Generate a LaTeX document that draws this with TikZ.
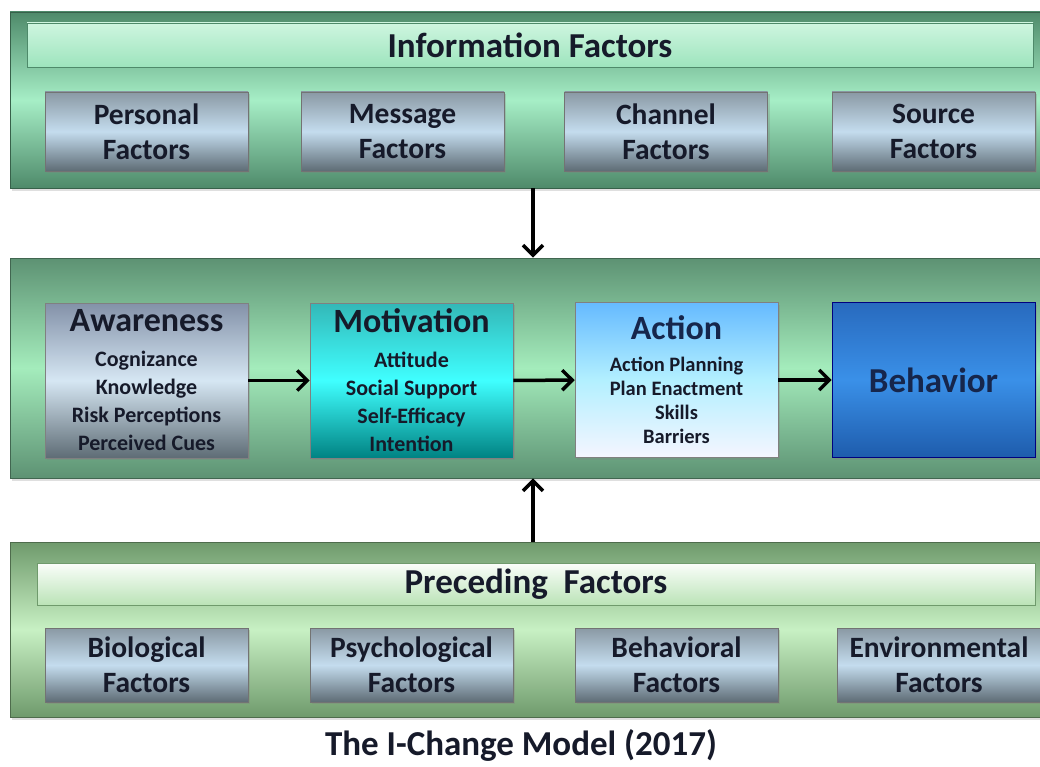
\documentclass[tikz,border=0pt]{standalone}
\usepackage{fontspec}
\setmainfont{Carlito}
\usetikzlibrary{arrows.meta,shadows}

% colours of the three bands and of the boxes
\definecolor{infodark}{HTML}{4E8A6A}
\definecolor{infolight}{HTML}{A6EEC6}
\definecolor{stagedark}{HTML}{5D9273}
\definecolor{stagelight}{HTML}{A4ECBC}
\definecolor{precdark}{HTML}{6F9A6C}
\definecolor{preclight}{HTML}{C8F0C4}
\definecolor{ink}{HTML}{161A2A}
\definecolor{navy}{HTML}{16264C}
\definecolor{facttop}{HTML}{8A99A4}
\definecolor{factmid}{HTML}{C4DCEE}
\definecolor{factbot}{HTML}{5E6C75}

\newcommand{\stagehead}{\fontsize{34}{40}\selectfont}

\tikzset{
  band/.style={draw=#1dark!70!black, line width=0.8pt,
    top color=#1dark, bottom color=#1dark, middle color=#1light,
    minimum width=1030pt, inner sep=0pt,
    drop shadow={opacity=0.25, shadow xshift=2pt, shadow yshift=-3pt}},
  banner/.style={draw=#1dark, line width=0.6pt, minimum height=44pt, inner sep=0pt,
    text=ink, font=\bfseries\fontsize{35}{38}\selectfont},
  factor/.style={draw=black!55, line width=0.6pt,
    top color=facttop, bottom color=factbot, middle color=factmid,
    minimum width=203pt, inner sep=0pt, align=center, text=ink,
    font=\bfseries\fontsize{29.5}{35}\selectfont,
    drop shadow={opacity=0.3, shadow xshift=2pt, shadow yshift=-2pt}},
  stage/.style={draw=black!50, line width=0.6pt,
    minimum width=203pt, minimum height=155pt, inner sep=0pt, align=center,
    text=ink, font=\bfseries\fontsize{22}{28}\selectfont,
    drop shadow={opacity=0.3, shadow xshift=2pt, shadow yshift=-2pt}},
  flow/.style={line width=3.5pt, -{Straight Barb[length=10pt,width=20pt]}},
}

\begin{document}
\begin{tikzpicture}[x=1pt, y=-1pt]
\useasboundingbox[fill=white] (0,0) rectangle (1040,767);

% information factors
\node[band=info, minimum height=176pt] (info) at (525,100) {};
\node[banner=info, minimum width=1006pt, top color=infolight!55!white,
      bottom color=infolight!90!infodark] (infotitle) at (530,45) {Information Factors};
\node[factor, minimum height=79pt] (personal) at (146.5,131.5) {Personal\\Factors};
\node[factor, minimum height=79pt] (message)  at (402.5,131.5) {Message\\Factors};
\node[factor, minimum height=79pt] (channel)  at (666,131.5)   {Channel\\Factors};
\node[factor, minimum height=79pt] (source)   at (933.5,131.5) {Source\\Factors};

% the four stages
\node[band=stage, minimum height=220pt] (stages) at (525,368) {};
\node[stage, top color=facttop!95!blue, bottom color=factbot,
      middle color=factmid!70!white] (aware) at (146.5,380.5)
  {{\stagehead Awareness}\\[7pt]Cognizance\\Knowledge\\Risk Perceptions\\Perceived Cues};
\node[stage, top color=teal!70!cyan!80, bottom color=teal!80!cyan!85!black,
      middle color=cyan!75!white] (motiv) at (411.5,380.5)
  {{\stagehead Motivation}\\[7pt]Attitude\\Social Support\\Self-Efficacy\\Intention};
\node[stage, top color=blue!45!cyan!60, bottom color=blue!4!white,
      middle color=blue!20!cyan!30!white,
      font=\bfseries\fontsize{20.5}{24}\selectfont] (action) at (676.5,380)
  {{\stagehead\color{navy}Action}\\[8pt]Action Planning\\Plan Enactment\\Skills\\Barriers};
\node[stage, draw=blue!50!black, top color={rgb,255:red,40;green,106;blue,190},
      bottom color={rgb,255:red,30;green,92;blue,172},
      middle color={rgb,255:red,58;green,144;blue,232},
      text=navy, font=\bfseries\fontsize{35}{40}\selectfont] (behav) at (933.5,380)
  {Behavior};

\draw[flow] (aware) -- (motiv);
\draw[flow] (motiv) -- (action);
\draw[flow] (action) -- (behav);

% preceding factors
\node[band=prec, minimum height=175pt] (prec) at (525,629.5) {};
\node[banner=prec, minimum width=998pt, minimum height=42pt, top color=white!92!preclight,
      bottom color=preclight!85!precdark] (prectitle) at (536,584) {Preceding\ \ Factors};
\node[factor, minimum height=74pt] (bio)   at (146.5,665) {Biological\\Factors};
\node[factor, minimum height=74pt] (psych) at (411.5,665) {Psychological\\Factors};
\node[factor, minimum height=74pt] (behfac) at (676.5,665) {Behavioral\\Factors};
\node[factor, minimum height=74pt] (env)   at (939,665)   {Environmental\\Factors};

\draw[flow] ([xshift=8pt]info.south) -- ([xshift=8pt]stages.north);
\draw[flow] ([xshift=8pt]prec.north) -- ([xshift=8pt]stages.south);

\node[text=ink, font=\bfseries\fontsize{35}{38}\selectfont] (caption) at (521,745)
  {The I-Change Model (2017)};
\end{tikzpicture}
\end{document}
